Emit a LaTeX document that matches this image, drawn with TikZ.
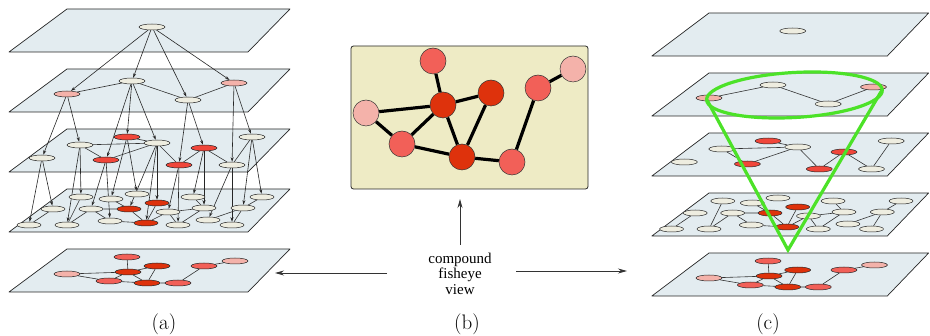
\documentclass[tikz,border=0pt]{standalone}
\usepackage{fontspec}
\newfontfamily\serifT{Liberation Serif}
\usetikzlibrary{shapes.geometric,arrows.meta}
\pgfdeclarelayer{planes}
\pgfdeclarelayer{edges}
\pgfsetlayers{planes,edges,main}
\definecolor{cream}{RGB}{238,237,224}
\definecolor{pinkn}{RGB}{244,178,170}
\definecolor{medred}{RGB}{242,96,88}
\definecolor{brightred}{RGB}{240,70,58}
\definecolor{darkred}{RGB}{222,50,12}
\definecolor{planec}{RGB}{227,236,240}
\definecolor{boxc}{RGB}{238,235,197}
\definecolor{greenc}{RGB}{76,226,40}
\tikzset{
  gn/.style={ellipse, draw=black!85, line width=0.5pt, inner sep=0pt, minimum width=26pt, minimum height=6pt, fill=cream},
  gs/.style={gn, minimum width=24pt},
  pk/.style={fill=pinkn}, mr/.style={fill=medred}, br/.style={fill=brightred}, dr/.style={fill=darkred},
  gedge/.style={line width=0.6pt, draw=black!80},
  garrow/.style={line width=0.6pt, draw=black!85, -{Stealth[length=4.5pt,width=3pt]}},
  planebox/.style={fill=planec, draw=black!85, line width=0.7pt, line join=round},
  cnode/.style={circle, draw=black!80, line width=0.5pt, minimum size=26pt, inner sep=0pt},
  cedge/.style={line width=3.2pt, draw=black},
  bigarrow/.style={line width=0.8pt, draw=black!80, -{Stealth[length=9pt,width=5pt]}},
  lab/.style={font=\fontsize{21}{21}\selectfont, anchor=base},
  gcone/.style={draw=greenc, line width=3.2pt}
}
\newcommand\planeat[1]{\path[planebox] (67,#1) -- (290,#1) -- (248,#1+43) -- (9,#1+43) -- cycle;}
\newcommand\gpanel[1]{%
  \begin{pgfonlayer}{planes}
    \planeat{9}\planeat{69}\planeat{129}\planeat{189}\planeat{249}
  \end{pgfonlayer}
  % layer 1
  \node[gn] (#1L1) at (152,27) {};
  % layer 2
  \node[gn,pk] (#1L2a) at (67,94) {};
  \node[gn] (#1L2b) at (132,81) {};
  \node[gn] (#1L2c) at (188,100) {};
  \node[gn,pk] (#1L2d) at (234,83) {};
  % layer 3
  \node[gn] (#1L3a) at (42,158) {};
  \node[gn] (#1L3b) at (80,145) {};
  \node[gn,br] (#1L3c) at (127,137) {};
  \node[gn,br] (#1L3d) at (106,160) {};
  \node[gn] (#1L3e) at (157,143) {};
  \node[gn,br] (#1L3f) at (204,148) {};
  \node[gn,br] (#1L3g) at (179,165) {};
  \node[gn] (#1L3h) at (252,137) {};
  \node[gn] (#1L3i) at (232,165) {};
  % layer 4
  \node[gs] (#1A) at (29,225) {};
  \node[gs] (#1B) at (53,209) {};
  \node[gs] (#1C) at (67,225) {};
  \node[gs] (#1D) at (81,197) {};
  \node[gs] (#1E) at (91,209) {};
  \node[gs] (#1F) at (111,199) {};
  \node[gs] (#1G) at (110,221) {};
  \node[gs] (#1H) at (137,194) {};
  \node[gs,dr] (#1I) at (129,209) {};
  \node[gs,dr] (#1J) at (157,203) {};
  \node[gs,dr] (#1K) at (146,223) {};
  \node[gs] (#1L) at (168,212) {};
  \node[gs] (#1M) at (178,225) {};
  \node[gs] (#1N) at (193,197) {};
  \node[gs] (#1O) at (204,208) {};
  \node[gs] (#1P) at (208,220) {};
  \node[gs] (#1Q) at (232,225) {};
  \node[gs] (#1R) at (243,208) {};
  \node[gs] (#1S) at (262,197) {};
  % layer 5
  \node[gn,mr] (#1t) at (127,257) {};
  \node[gn,dr] (#1c) at (128,272) {};
  \node[gn,dr] (#1e) at (157,266) {};
  \node[gn,pk] (#1p) at (67,274) {};
  \node[gn,mr] (#1m) at (109,281) {};
  \node[gn,dr] (#1d) at (147,283) {};
  \node[gn,mr] (#1n) at (178,283) {};
  \node[gn,mr] (#1o) at (204,266) {};
  \node[gn,pk] (#1q) at (235,261) {};
  \begin{pgfonlayer}{edges}
    \draw[gedge] (#1L2a) -- (#1L2b) -- (#1L2c) -- (#1L2d);
    \draw[gedge] (#1L3b) -- (#1L3e) (#1L3b) -- (#1L3d) (#1L3c) -- (#1L3e)
      (#1L3d) -- (#1L3e) (#1L3e) -- (#1L3g) (#1L3g) -- (#1L3f)
      (#1L3f) -- (#1L3i) (#1L3h) -- (#1L3i);
    \draw[gedge] (#1A) -- (#1B) (#1C) -- (#1D) (#1C) -- (#1E) (#1E) -- (#1G)
      (#1E) -- (#1I) (#1F) -- (#1I) (#1I) -- (#1K) (#1G) -- (#1K) (#1J) -- (#1K)
      (#1K) -- (#1L) (#1L) -- (#1M) (#1L) -- (#1O) (#1N) -- (#1O) (#1M) -- (#1O)
      (#1P) -- (#1R) (#1Q) -- (#1R) (#1R) -- (#1S);
    \draw[gedge] (#1t) -- (#1c) (#1p) -- (#1c) (#1p) -- (#1m) (#1m) -- (#1c)
      (#1m) -- (#1d) (#1c) -- (#1d) (#1e) -- (#1d) (#1c) -- (#1e)
      (#1d) -- (#1n) (#1n) -- (#1o) (#1o) -- (#1q);
  \end{pgfonlayer}
}
\begin{document}
\begin{tikzpicture}[x=1pt,y=-1pt]
\useasboundingbox (0,0) rectangle (930,336);
% ---- panel (a)
\begin{scope}
  \gpanel{a-}
  \begin{pgfonlayer}{edges}
    \foreach \s/\t in {L1/L2a,L1/L2b,L1/L2c,L1/L2d,
      L2a/L3a,L2a/L3b,L2b/L3d,L2b/L3c,L2b/L3e,L2c/L3g,L2c/L3f,L2d/L3i,L2d/L3h,
      L3a/A,L3a/B,L3b/C,L3b/D,L3d/E,L3d/G,L3c/F,L3c/H,L3e/I,L3e/K,L3e/J,
      L3g/L,L3g/M,L3f/N,L3f/O,L3i/P,L3i/Q,L3h/R,L3h/S}
      \draw[garrow] (a-\s) -- (a-\t);
  \end{pgfonlayer}
\end{scope}
% ---- panel (c)
\begin{scope}[shift={(643,4)}, xscale=0.985]
  \gpanel{r-}
\end{scope}
\coordinate (gl) at (707,100);
\coordinate (gr) at (882,90);
\coordinate (gc) at (794.5,95);
\coordinate (apex) at (788,250);
\draw[gcone, rotate around={3.25:(gc)}] (gc) ellipse [x radius=88pt, y radius=22.5pt];
\draw[gcone, line join=miter] (gl) -- (apex) -- (gr);
% ---- panel (b)
\begin{pgfonlayer}{planes}
\node[draw=black!85, line width=0.8pt, fill=boxc, rounded corners=2.5pt,
  minimum width=237pt, minimum height=143pt, inner sep=0pt] (box) at (469.5,117.5) {};
\end{pgfonlayer}
\node[cnode, fill=medred] (b1) at (433,61) {};
\node[cnode, fill=darkred] (b2) at (443,105) {};
\node[cnode, fill=darkred] (b3) at (491,93) {};
\node[cnode, fill=pinkn] (b4) at (366,113) {};
\node[cnode, fill=medred] (b5) at (402,144) {};
\node[cnode, fill=darkred] (b6) at (462,157) {};
\node[cnode, fill=medred] (b7) at (512,162) {};
\node[cnode, fill=medred] (b8) at (538,88) {};
\node[cnode, fill=pinkn] (b9) at (573,69) {};
\begin{pgfonlayer}{edges}
  \draw[cedge] (b1) -- (b2) (b2) -- (b3) (b2) -- (b4) (b2) -- (b5) (b2) -- (b6)
    (b3) -- (b6) (b4) -- (b5) (b5) -- (b6) (b6) -- (b7) (b7) -- (b8) (b8) -- (b9);
\end{pgfonlayer}
% text and arrows
\node[font=\serifT\fontsize{15}{15.5}\selectfont, align=center, inner sep=0pt] (fish) at (460,273.5) {compound\\fisheye\\view};
\coordinate (upT) at (460,245);
\coordinate (upH) at (460,199);
\coordinate (lT) at (387,273);
\coordinate (lH) at (275,273);
\coordinate (rT) at (516,271);
\coordinate (rH) at (627,271);
\draw[bigarrow] (upT) -- (upH);
\draw[bigarrow] (lT) -- (lH);
\draw[bigarrow] (rT) -- (rH);
\node[lab] (la) at (164,329.5) {(a)};
\node[lab] (lb) at (467,329.5) {(b)};
\node[lab] (lc) at (768,329.5) {(c)};
\end{tikzpicture}
\end{document}
